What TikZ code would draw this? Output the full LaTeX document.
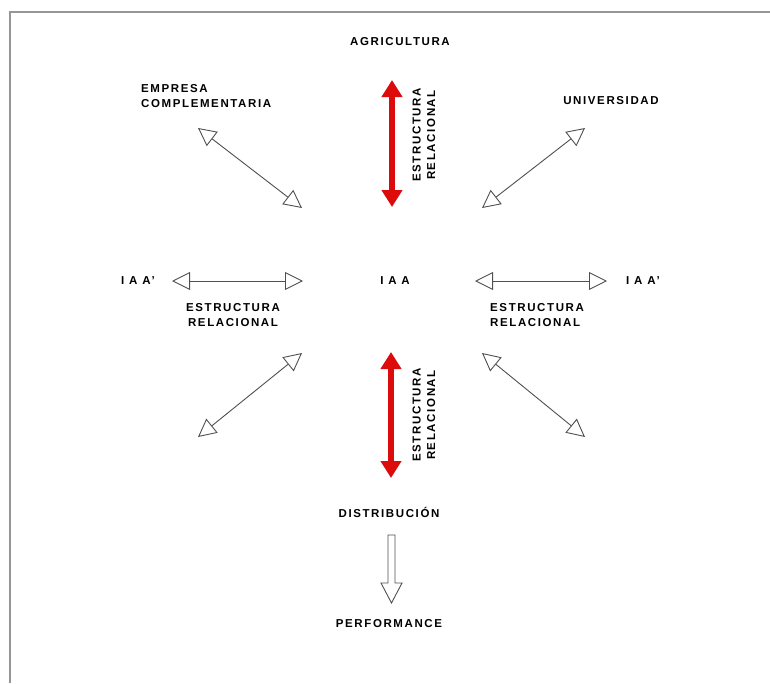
\documentclass[tikz,border=0pt]{standalone}
\usepackage{fontspec}
\setmainfont{Liberation Sans}[LetterSpace=14]
\usetikzlibrary{arrows.meta}
\definecolor{redarr}{RGB}{220,12,12}
\definecolor{framegray}{RGB}{150,150,150}
\definecolor{linegray}{RGB}{80,80,80}
\begin{document}
\begin{tikzpicture}[x=1pt,y=-1pt,
  lbl/.style={font=\fontsize{11.5}{14.5}\selectfont\bfseries, inner sep=0pt, align=center},
  lbll/.style={lbl, align=left},
  thinarrow/.style={draw=linegray, line width=0.9pt,
    {Triangle[open,length=18pt,width=18pt]}-{Triangle[open,length=18pt,width=18pt]}},
  redarrow/.style={draw=redarr, line width=6pt,
    {Triangle[length=17pt,width=20pt]}-{Triangle[length=17pt,width=20pt]}},
  hollow/.style={draw=linegray, line width=0.9pt, fill=white, line join=miter},
  framestyle/.style={draw=framegray, line width=1.6pt}]
\useasboundingbox (0,0) rectangle (770,683);
\fill[white] (0,0) rectangle (770,683);
% frame
\coordinate (fbl) at (10,683);
\coordinate (ftl) at (10,12);
\coordinate (ftr) at (770,12);
\draw[framestyle] (fbl) -- (ftl) -- (ftr);

% text nodes
\node[lbl] (agri) at (400,42) {AGRICULTURA};
\node[lbll, anchor=west] (empresa) at (141,96) {EMPRESA\\COMPLEMENTARIA};
\node[lbl] (univ) at (611,101) {UNIVERSIDAD};
\node[lbl] (iaa) at (395,281) {I A A};
\node[lbl] (iaaL) at (138,281) {I A A'};
\node[lbl] (iaaR) at (643,281) {I A A'};
\node[lbl] (erL) at (233,315) {ESTRUCTURA\\RELACIONAL};
\node[lbll, anchor=west] (erR) at (490,315) {ESTRUCTURA\\RELACIONAL};
\node[lbl, rotate=90] (erT) at (424,135) {ESTRUCTURA\\RELACIONAL};
\node[lbl, rotate=90] (erB) at (424,415) {ESTRUCTURA\\RELACIONAL};
\node[lbl] (distr) at (389,512) {DISTRIBUCIÓN};
\node[lbl] (perf) at (389,624) {PERFORMANCE};

% arrow end points
\coordinate (rtA) at (392,80);
\coordinate (rtB) at (392,207);
\coordinate (rbA) at (391,352);
\coordinate (rbB) at (391,478);
\coordinate (ulA) at (198,128);
\coordinate (ulB) at (302,208);
\coordinate (urA) at (585,128);
\coordinate (urB) at (482,208);
\coordinate (hlA) at (172,281);
\coordinate (hlB) at (303,281);
\coordinate (hrA) at (475,281);
\coordinate (hrB) at (607,281);
\coordinate (llA) at (302,353);
\coordinate (llB) at (198,437);
\coordinate (lrA) at (482,353);
\coordinate (lrB) at (585,437);
\coordinate (dtop) at (391.5,535);

% red arrows
\draw[redarrow] (rtA) -- (rtB);
\draw[redarrow] (rbA) -- (rbB);
% thin double arrows
\draw[thinarrow] (ulA) -- (ulB);
\draw[thinarrow] (urA) -- (urB);
\draw[thinarrow] (hlA) -- (hlB);
\draw[thinarrow] (hrA) -- (hrB);
\draw[thinarrow] (llA) -- (llB);
\draw[thinarrow] (lrA) -- (lrB);
% hollow arrow distribucion -> performance
\draw[hollow] (dtop) ++(-3.5,0) -- ++(7,0) -- ++(0,48) -- ++(7,0)
  -- ++(-10.5,20) -- ++(-10.5,-20) -- ++(7,0) -- cycle;
\end{tikzpicture}
\end{document}
